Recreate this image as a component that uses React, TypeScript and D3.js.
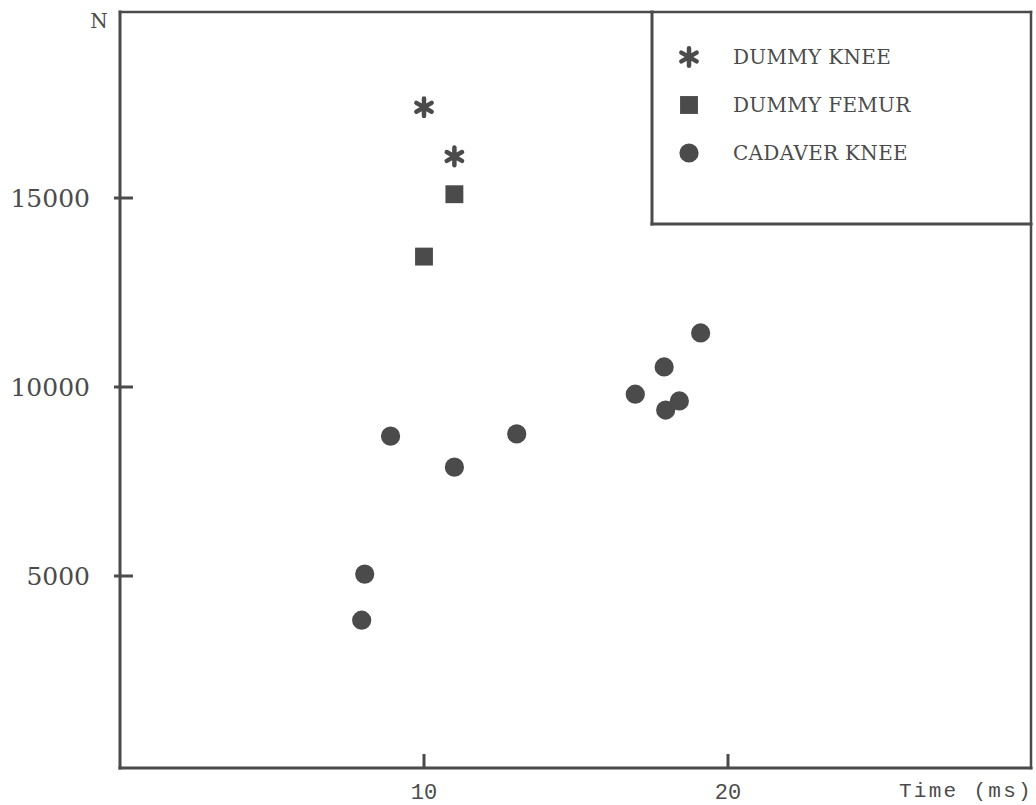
import * as d3 from "d3";

const width = 1036;
const height = 805;

// frame of the plot
const frameLeft = 120;
const frameRight = 1031;
const frameTop = 12;
const frameBottom = 768;

// legend box (top right corner)
const legendLeft = 652;
const legendBottom = 224;

const ink = "#4b4b4b";

const xTicks = [10, 20];
const yTicks = [5000, 10000, 15000];

// DUMMY KNEE (asterisks)
const dummyKneeTime = [10, 11];
const dummyKneeForce = [17400, 16100];

// DUMMY FEMUR (squares)
const dummyFemurTime = [11, 10];
const dummyFemurForce = [15100, 13450];

// CADAVER KNEE (dots)
const cadaverTime = [19.1, 17.9, 16.95, 18.4, 17.95, 8.9, 13.05, 11, 8.05, 7.95];
const cadaverForce = [11430, 10530, 9810, 9630, 9390, 8700, 8760, 7880, 5050, 3830];

const legendLabels = ["DUMMY KNEE", "DUMMY FEMUR", "CADAVER KNEE"];

const toPoints = (xs: number[], ys: number[]) => xs.map((x, i) => ({ x, y: ys[i] }));

const App = () => {
  const xScale = d3.scaleLinear().domain([0, 30]).range([frameLeft, 1032]);
  const yScale = d3.scaleLinear().domain([0, 20000]).range([765, 9]);

  const asterisk = d3.symbol(d3.symbolAsterisk, 220)();
  const square = d3.symbol(d3.symbolSquare, 320)();
  const circle = d3.symbol(d3.symbolCircle, 290)();

  const kneePts = toPoints(dummyKneeTime, dummyKneeForce);
  const femurPts = toPoints(dummyFemurTime, dummyFemurForce);
  const cadaverPts = toPoints(cadaverTime, cadaverForce);

  const legendY = d3.scalePoint().domain(legendLabels).range([57, 153]);
  const legendSymbols = [asterisk, square, circle];

  return (
    <svg
      width={width}
      height={height}
      viewBox={`0 0 ${width} ${height}`}
      style={{ position: "absolute", left: 0, top: 0, background: "#fff" }}
    >
      {/* plot frame */}
      <g stroke={ink} strokeWidth={3} fill="none" strokeLinecap="square">
        <line x1={frameLeft} y1={frameTop} x2={frameLeft} y2={frameBottom} />
        <line x1={frameLeft} y1={frameBottom} x2={frameRight} y2={frameBottom} />
        <line x1={frameLeft} y1={frameTop} x2={frameRight} y2={frameTop} strokeWidth={2.5} />
        <line x1={frameRight} y1={frameTop} x2={frameRight} y2={frameBottom} strokeWidth={2.5} />
        <line x1={legendLeft} y1={frameTop} x2={legendLeft} y2={legendBottom} />
        <line x1={legendLeft} y1={legendBottom} x2={frameRight} y2={legendBottom} />
      </g>

      {/* y axis ticks and labels */}
      <g className="y-axis">
        {yTicks.map((t) => (
          <g key={t}>
            <line
              x1={frameLeft - 6}
              x2={frameLeft + 13}
              y1={yScale(t)}
              y2={yScale(t)}
              stroke={ink}
              strokeWidth={3}
            />
            <text
              x={90}
              y={yScale(t)}
              dy="0.35em"
              textAnchor="end"
              fontFamily="DejaVu Serif"
              fontSize={25}
              fill={ink}
            >
              {t}
            </text>
          </g>
        ))}
        <text x={99} y={28} textAnchor="middle" fontFamily="DejaVu Serif" fontSize={20} fill={ink}>
          N
        </text>
      </g>

      {/* x axis ticks and labels */}
      <g className="x-axis">
        {xTicks.map((t) => (
          <g key={t}>
            <line
              x1={xScale(t)}
              x2={xScale(t)}
              y1={frameBottom}
              y2={frameBottom - 14}
              stroke={ink}
              strokeWidth={3}
            />
            <text
              x={xScale(t)}
              y={799}
              textAnchor="middle"
              fontFamily="Liberation Mono"
              fontSize={22}
              fill={ink}
            >
              {t}
            </text>
          </g>
        ))}
        <text
          x={1033}
          y={797}
          textAnchor="end"
          fontFamily="Liberation Mono"
          fontSize={21}
          letterSpacing={2.3}
          fill={ink}
        >
          Time (ms)
        </text>
      </g>

      {/* data */}
      <g className="dummy-knee" stroke={ink} strokeWidth={4.5} strokeLinecap="round" fill="none">
        {kneePts.map((d, i) => (
          <path key={i} d={asterisk!} transform={`translate(${xScale(d.x)},${yScale(d.y)})`} />
        ))}
      </g>
      <g className="dummy-femur" fill={ink}>
        {femurPts.map((d, i) => (
          <path key={i} d={square!} transform={`translate(${xScale(d.x)},${yScale(d.y)})`} />
        ))}
      </g>
      <g className="cadaver-knee" fill={ink}>
        {cadaverPts.map((d, i) => (
          <path key={i} d={circle!} transform={`translate(${xScale(d.x)},${yScale(d.y)})`} />
        ))}
      </g>

      {/* legend */}
      <g className="legend">
        {legendLabels.map((label, i) => (
          <g key={label} transform={`translate(0,${legendY(label)})`}>
            <path
              d={legendSymbols[i]!}
              transform="translate(689,0)"
              fill={i === 0 ? "none" : ink}
              stroke={i === 0 ? ink : "none"}
              strokeWidth={4.5}
              strokeLinecap="round"
            />
            <text
              x={733}
              dy="0.36em"
              fontFamily="DejaVu Serif"
              fontSize={20}
              fill={ink}
              letterSpacing={0.3}
            >
              {label}
            </text>
          </g>
        ))}
      </g>
    </svg>
  );
};

export default App;
